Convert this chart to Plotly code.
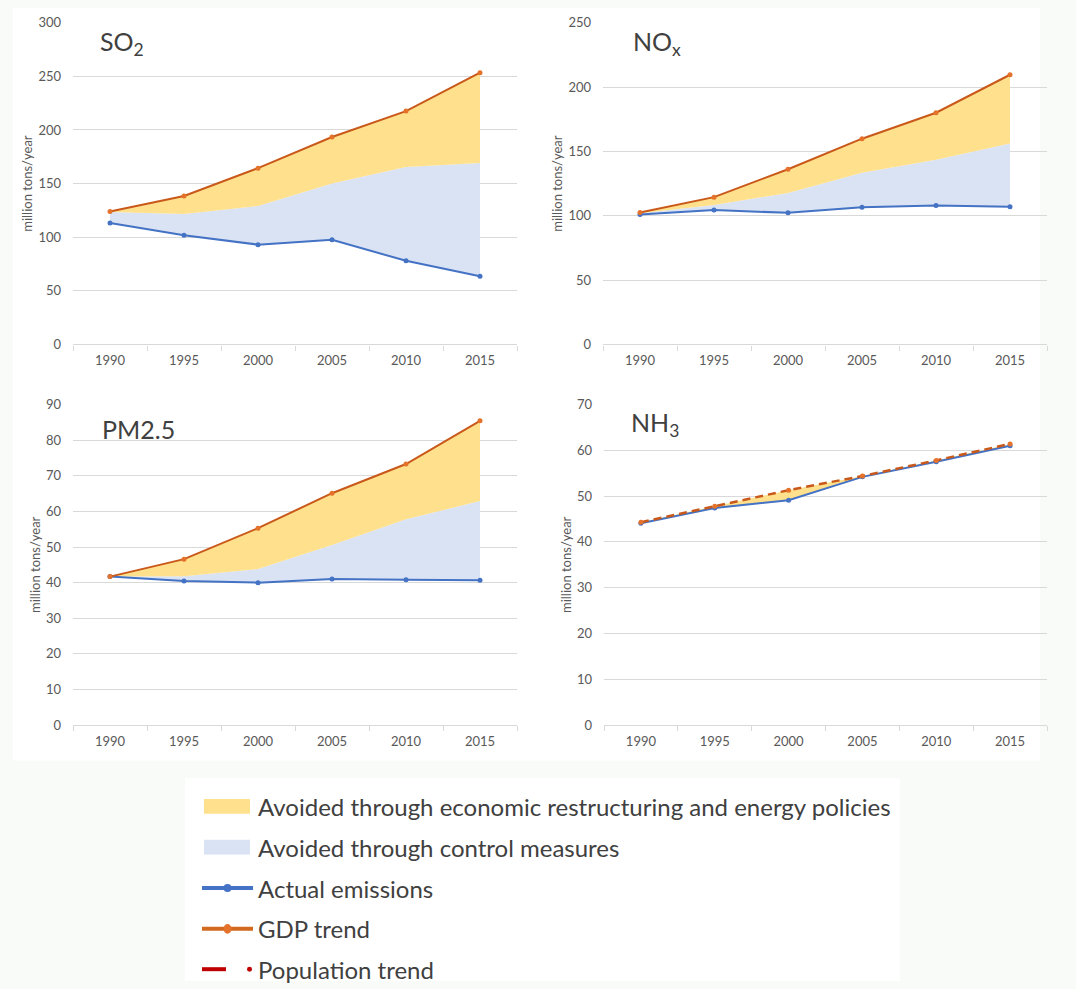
import plotly.graph_objects as go

# ---- data (million tons/year) ----
years = ["1990", "1995", "2000", "2005", "2010", "2015"]

so2_actual = [113.3, 101.9, 93.1, 97.7, 78.0, 63.7]
so2_control = [123.5, 121.6, 129.2, 150.0, 165.6, 169.3]
so2_gdp = [124.0, 138.4, 164.4, 193.5, 217.6, 253.4]

nox_actual = [101.0, 104.4, 102.3, 106.6, 107.9, 107.1]
nox_control = [102.0, 108.4, 117.8, 133.4, 143.6, 156.1]
nox_gdp = [102.5, 114.5, 136.2, 159.9, 180.1, 209.6]

pm_actual = [41.7, 40.5, 40.0, 41.0, 40.8, 40.7]
pm_control = [41.7, 41.8, 43.8, 50.6, 57.8, 62.9]
pm_gdp = [41.7, 46.6, 55.3, 65.1, 73.3, 85.4]

nh3_actual = [44.1, 47.4, 49.1, 54.2, 57.5, 61.0]
nh3_control = [44.1, 47.4, 49.1, 54.2, 57.5, 61.0]
nh3_trend = [44.3, 47.8, 51.3, 54.4, 57.8, 61.4]

panel_titles = ["SO<sub>2</sub>", "NO<sub>x</sub>", "PM2.5", "NH<sub>3</sub>"]
y_max = [300, 250, 90, 70]
y_step = [50, 50, 10, 10]

legend_labels = [
    "Avoided through economic restructuring and energy policies",
    "Avoided through control measures",
    "Actual emissions",
    "GDP trend",
    "Population trend",
]

# ---- styling ----
W, H = 1076, 989
FONT = "Lato"
BLUE = "#4472C4"
ORANGE_LINE = "#C9591A"
ORANGE_MARK = "#E4722B"
RED = "#C00000"
YELLOW_FILL = "#FFE08C"
BLUE_FILL = "#DAE3F3"
GRID = "#D9D9D9"
TICK_TXT = "#595959"
TITLE_TXT = "#404040"


def fx(px):
    return px / W


def fy(py):
    return 1 - py / H


panels = [
    dict(actual=so2_actual, control=so2_control, trend=so2_gdp, dash=False,
         xd=(73, 517), yd=(15, 342), title_xy=(98, 36)),
    dict(actual=nox_actual, control=nox_control, trend=nox_gdp, dash=False,
         xd=(603, 1047), yd=(15, 342), title_xy=(631, 36)),
    dict(actual=pm_actual, control=pm_control, trend=pm_gdp, dash=False,
         xd=(73, 517), yd=(403, 729), title_xy=(100, 428)),
    dict(actual=nh3_actual, control=nh3_control, trend=nh3_trend, dash=True,
         xd=(604, 1047), yd=(403, 729), title_xy=(629, 423)),
]

fig = go.Figure()
layout_axes = {}
annotations = []

for i, p in enumerate(panels):
    n = i + 1
    xa = "x" if n == 1 else f"x{n}"
    ya = "y" if n == 1 else f"y{n}"
    xkey = "xaxis" if n == 1 else f"xaxis{n}"
    ykey = "yaxis" if n == 1 else f"yaxis{n}"

    # filled bands: actual -> control (blue), control -> trend (yellow)
    fig.add_trace(go.Scatter(x=years, y=p["actual"], mode="lines",
                             line=dict(width=0, color="rgba(0,0,0,0)"),
                             xaxis=xa, yaxis=ya, showlegend=False, hoverinfo="skip"))
    fig.add_trace(go.Scatter(x=years, y=p["control"], mode="lines", fill="tonexty",
                             line=dict(width=0, color="rgba(0,0,0,0)"),
                             fillcolor=BLUE_FILL, xaxis=xa, yaxis=ya, showlegend=False,
                             name=legend_labels[1]))
    fig.add_trace(go.Scatter(x=years, y=p["trend"], mode="lines", fill="tonexty",
                             line=dict(width=0, color="rgba(0,0,0,0)"),
                             fillcolor=YELLOW_FILL, xaxis=xa, yaxis=ya, showlegend=False,
                             name=legend_labels[0]))
    # lines on top
    fig.add_trace(go.Scatter(x=years, y=p["actual"], mode="lines+markers",
                             line=dict(color=BLUE, width=2),
                             marker=dict(color=BLUE, size=5),
                             xaxis=xa, yaxis=ya, showlegend=False, name=legend_labels[2]))
    fig.add_trace(go.Scatter(x=years, y=p["trend"], mode="lines+markers",
                             line=dict(color=ORANGE_LINE, width=2.5 if p["dash"] else 2,
                                       dash="8px,5px" if p["dash"] else "solid"),
                             marker=dict(color=ORANGE_MARK, size=5),
                             xaxis=xa, yaxis=ya, showlegend=False,
                             name=legend_labels[4] if p["dash"] else legend_labels[3]))

    layout_axes[xkey] = dict(
        domain=[fx(p["xd"][0]), fx(p["xd"][1])],
        anchor=ya, type="category", tickson="boundaries", range=[-0.5, 5.5],
        ticks="outside", ticklen=5, tickcolor=GRID, tickwidth=1,
        showline=True, linecolor=GRID, linewidth=1.3,
        showgrid=False, zeroline=False,
        tickfont=dict(family=FONT, size=13, color=TICK_TXT),
        ticklabelstandoff=4, fixedrange=True,
    )
    layout_axes[ykey] = dict(
        domain=[fy(p["yd"][1]), fy(p["yd"][0])],
        anchor=xa, range=[0, y_max[i]], tickmode="linear", tick0=0, dtick=y_step[i],
        showgrid=True, gridcolor=GRID, gridwidth=1, zeroline=False, showline=False,
        ticks="", tickfont=dict(family=FONT, size=13, color=TICK_TXT),
        ticklabelstandoff=11,
        title=dict(text="million tons/year", standoff=2,
                   font=dict(family=FONT, size=13, color=TICK_TXT)),
        fixedrange=True,
    )

    tx, ty = p["title_xy"]
    annotations.append(dict(
        text=panel_titles[i], xref="paper", yref="paper", x=fx(tx), y=fy(ty),
        xanchor="left", yanchor="middle", showarrow=False,
        font=dict(family=FONT, size=25, color=TITLE_TXT),
    ))

# ---- page background panels ----
shapes = [
    dict(type="rect", xref="paper", yref="paper", x0=fx(13), x1=fx(1040), y0=fy(765), y1=fy(0),
         fillcolor="white", line=dict(width=0), layer="below"),
    dict(type="rect", xref="paper", yref="paper", x0=fx(185), x1=fx(900), y0=fy(989), y1=fy(783),
         fillcolor="white", line=dict(width=0), layer="below"),
]

# ---- legend ----
rows = [811.5, 853, 894.5, 936, 977]
text_x = 256
for lab, ry in zip(legend_labels, rows):
    annotations.append(dict(
        text=lab, xref="paper", yref="paper", x=fx(text_x), y=fy(ry),
        xanchor="left", yanchor="middle", showarrow=False,
        font=dict(family=FONT, size=24, color=TITLE_TXT),
    ))

shapes += [
    dict(type="rect", xref="paper", yref="paper", x0=fx(204), x1=fx(250),
         y0=fy(rows[0] + 7.5), y1=fy(rows[0] - 7.5), fillcolor=YELLOW_FILL, line=dict(width=0)),
    dict(type="rect", xref="paper", yref="paper", x0=fx(204), x1=fx(250),
         y0=fy(rows[1] + 7.5), y1=fy(rows[1] - 7.5), fillcolor=BLUE_FILL, line=dict(width=0)),
    dict(type="line", xref="paper", yref="paper", x0=fx(202), x1=fx(253),
         y0=fy(rows[2]), y1=fy(rows[2]), line=dict(color=BLUE, width=4)),
    dict(type="circle", xref="paper", yref="paper", x0=fx(223.5), x1=fx(231.5),
         y0=fy(rows[2] + 4), y1=fy(rows[2] - 4), fillcolor=BLUE, line=dict(width=0)),
    dict(type="line", xref="paper", yref="paper", x0=fx(202), x1=fx(253),
         y0=fy(rows[3]), y1=fy(rows[3]), line=dict(color="#D2691F", width=4)),
    dict(type="circle", xref="paper", yref="paper", x0=fx(223.5), x1=fx(231.5),
         y0=fy(rows[3] + 5), y1=fy(rows[3] - 5), fillcolor=ORANGE_MARK, line=dict(width=0)),
    dict(type="line", xref="paper", yref="paper", x0=fx(202), x1=fx(226),
         y0=fy(rows[4]), y1=fy(rows[4]), line=dict(color=RED, width=4)),
    dict(type="circle", xref="paper", yref="paper", x0=fx(247), x1=fx(252),
         y0=fy(rows[4] + 2.5), y1=fy(rows[4] - 2.5), fillcolor=RED, line=dict(width=0)),
]

fig.update_layout(
    width=W, height=H, margin=dict(l=0, r=0, t=0, b=0),
    paper_bgcolor="#F9FBF9", plot_bgcolor="rgba(0,0,0,0)",
    showlegend=False, annotations=annotations, shapes=shapes,
    font=dict(family=FONT, color=TICK_TXT),
    **layout_axes,
)

fig.write_html("out.html")
